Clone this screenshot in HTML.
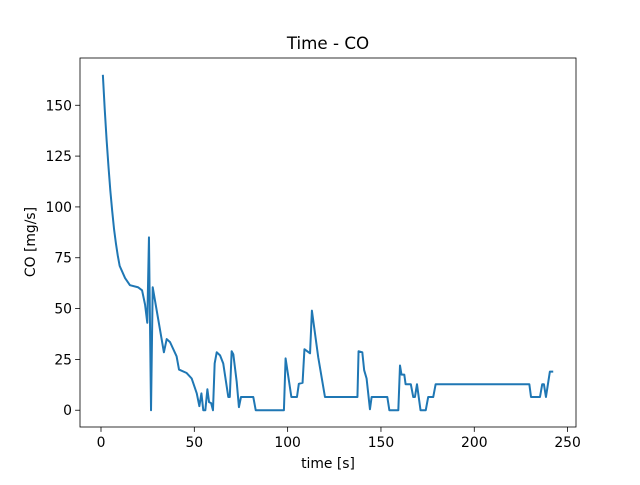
<!DOCTYPE html>
<html><head><meta charset="utf-8"><style>
body{margin:0;background:#fff;}
svg text{font-family:"DejaVu Sans","Liberation Sans",sans-serif;fill:#000;}
</style></head><body>
<svg id="chart" width="640" height="480" viewBox="0 0 640 480" xmlns="http://www.w3.org/2000/svg">
<rect x="0" y="0" width="640" height="480" fill="#fff"/>
<g id="plot"></g>
<text x="328" y="49" font-size="16.7" text-anchor="middle">Time - CO</text>
<text x="328" y="468" font-size="13.9" text-anchor="middle">time [s]</text>
<text x="0" y="0" font-size="13.9" text-anchor="middle" transform="translate(35,242) rotate(-90)">CO [mg/s]</text>
</svg>
<script>
const times=[1,2,3,4,5,6,7,8,9,10,12.9,15.5,19.8,22,23.6,24.8,25.7,26.8,27.7,33.7,35.2,37,40.5,41.8,45.9,48.6,51.3,52.7,53.8,54.8,55.9,57,57.9,59,60,60.9,62,63.8,65.5,68.2,69,70,70.9,72.7,73.9,75,81.6,82.9,98,98.9,102,105,106,108,109,112,113,116.4,120,137.4,138,140,141,142.3,144.1,145,153.4,154.5,159.3,160.2,161,162.5,163.2,166,167.3,168.2,169.3,171.2,174,175.3,178,179.3,229.5,230.4,235.2,236.4,237.3,238.4,240.5,242.3];
const coValues=[165,148,133,120,108,98,89,82,76,71,65,61.5,60.5,59,52,43,85,0,60.5,28.5,35,33.5,26.5,20,18.3,15.6,8.3,2,8.3,0,0,10.3,4,3.5,0,23,28.5,27,23,6.5,6.5,29,27.5,14,1.5,6.5,6.5,0,0,25.5,6.5,6.5,13,13.5,30,28,49,26,6.5,6.5,29,28.5,19.7,15.6,0.5,6.5,6.5,0,0,22,17.5,17.5,12.8,12.8,6.5,6.5,12.8,0,0,6.5,6.5,12.8,12.8,6.5,6.5,12.8,12.8,6.5,19,19];
const xTicks=[0,50,100,150,200,250];
const yTicks=[0,25,50,75,100,125,150];
const L=80,R=576,T=58,B=427;
const xMin=-11.25,xMax=254.5,yMin=-8.25,yMax=173.25;
const xs=v=>L+(v-xMin)/(xMax-xMin)*(R-L);
const ys=v=>B-(v-yMin)/(yMax-yMin)*(B-T);
const NS="http://www.w3.org/2000/svg";
const g=document.getElementById('plot');
function mk(tag,attrs){const e=document.createElementNS(NS,tag);for(const k in attrs)e.setAttribute(k,attrs[k]);g.appendChild(e);return e;}
const line=mk('polyline',{points:times.map((t,i)=>xs(t).toFixed(2)+','+ys(coValues[i]).toFixed(2)).join(' '),fill:'none',stroke:'#1f77b4','stroke-width':2,'stroke-linejoin':'round'});


const frame=mk('rect',{x:L,y:T,width:R-L,height:B-T,fill:'none',stroke:'#000','stroke-width':0.8});


xTicks.forEach(v=>{const x=xs(v);
const tk=mk('line',{x1:x,x2:x,y1:B,y2:B+4.9,stroke:'#000','stroke-width':0.8});


const tx=mk('text',{x:x,y:B+20,'font-size':13.9,'text-anchor':'middle'});tx.textContent=v;

});
yTicks.forEach(v=>{const y=ys(v);
const tk=mk('line',{x1:L-4.9,x2:L,y1:y,y2:y,stroke:'#000','stroke-width':0.8});


const tx=mk('text',{x:L-8,y:y+5,'font-size':13.9,'text-anchor':'end'});tx.textContent=v;

});
</script>
</body></html>
